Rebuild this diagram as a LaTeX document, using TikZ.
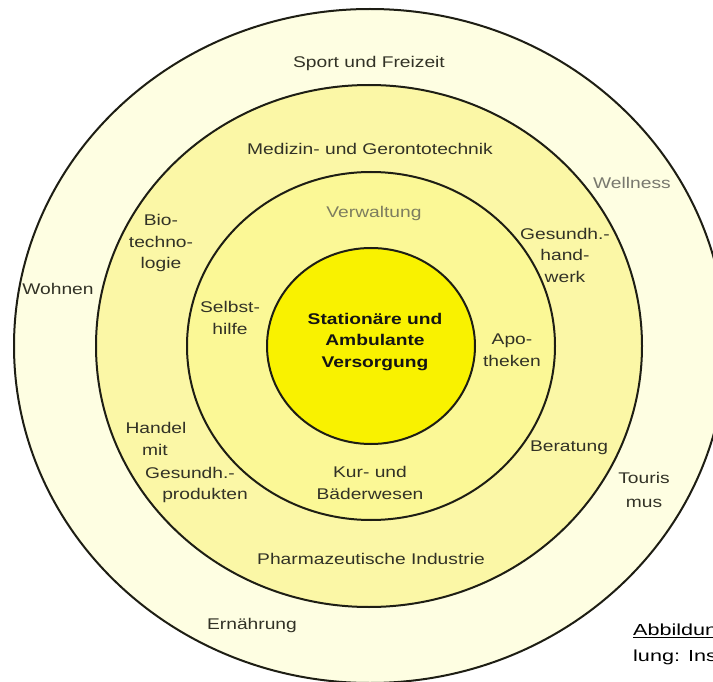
\documentclass[tikz,border=0pt]{standalone}
\usepackage{fontspec}
\setmainfont{Liberation Sans}[FakeStretch=1.24]
\newfontfamily\capfont{Liberation Sans}[FakeStretch=1.35]
\definecolor{ringOuter}{RGB}{254,254,226}
\definecolor{ringTwo}{RGB}{251,247,166}
\definecolor{ringThree}{RGB}{251,248,150}
\definecolor{core}{RGB}{249,242,0}
\definecolor{edge}{RGB}{30,30,20}
\definecolor{txt}{RGB}{50,50,38}
\definecolor{txtlight}{RGB}{125,125,95}
\definecolor{txtgrey}{RGB}{120,120,110}
\tikzset{
  ring/.style={draw=edge, line width=2pt},
  lbl/.style={font=\fontsize{15.5}{21.5}\selectfont, text=txt, align=center, inner sep=0pt},
  corelbl/.style={lbl, font=\fontsize{15.5}{21.5}\selectfont\bfseries, text=black!92},
  caption/.style={font=\capfont\fontsize{16}{26}\selectfont, text=black, align=left, inner sep=0pt, anchor=west}
}
\begin{document}
\begin{tikzpicture}[x=1pt,y=-1pt]
\useasboundingbox (0,0) rectangle (713,682);
\clip (0,0) rectangle (713,682);
\fill[white] (0,0) rectangle (713,682);
% rings
\draw[ring, fill=ringOuter] (370,346) ellipse [x radius=356, y radius=337];
\draw[ring, fill=ringTwo]   (369,346) ellipse [x radius=273, y radius=261];
\draw[ring, fill=ringThree] (371,346) ellipse [x radius=184, y radius=174];
\draw[ring, fill=core]      (371,346) ellipse [x radius=104, y radius=98];
% outer ring labels
\node[lbl] (sport) at (369,63) {Sport und Freizeit};
\node[lbl, text=txtgrey] (wellness) at (632,183) {Wellness};
\node[lbl] (wohnen) at (58,289) {Wohnen};
\node[lbl] (touris) at (644,490) {Touris\\[2pt]mus};
\node[lbl] (ernaehrung) at (252,625) {Ernährung};
% second ring labels
\node[lbl] (medizin) at (370,149) {Medizin- und Gerontotechnik};
\node[lbl] (bio) at (161,243) {Bio-\\techno-\\logie};
\node[lbl] (gesundh) at (565,255) {Gesundh.-\\hand-\\werk};
\node[lbl] (handelA) at (156,428) {Handel};
\node[lbl] (handelB) at (155,450) {mit};
\node[lbl] (handelC) at (190,473) {Gesundh.-};
\node[lbl] (handelD) at (205,495) {produkten};
\node[lbl] (beratung) at (569,448) {Beratung};
\node[lbl] (pharma) at (371,559) {Pharmazeutische Industrie};
% third ring labels
\node[lbl, text=txtlight] (verwaltung) at (374,213) {Verwaltung};
\node[lbl] (selbst) at (230,318) {Selbst-\\hilfe};
\node[lbl] (apo) at (512,350) {Apo-\\theken};
\node[lbl] (kur) at (370,483) {Kur- und\\Bäderwesen};
% core
\node[corelbl] (core) at (375,342) {Stationäre und\\Ambulante\\Versorgung};
% caption fragment, cut by the right edge as in the source
\node[caption] (capA) at (633,631) {\underline{Abbildun}};
\node[caption] (capB) at (633,657) {lung: Ins};
\end{tikzpicture}
\end{document}
